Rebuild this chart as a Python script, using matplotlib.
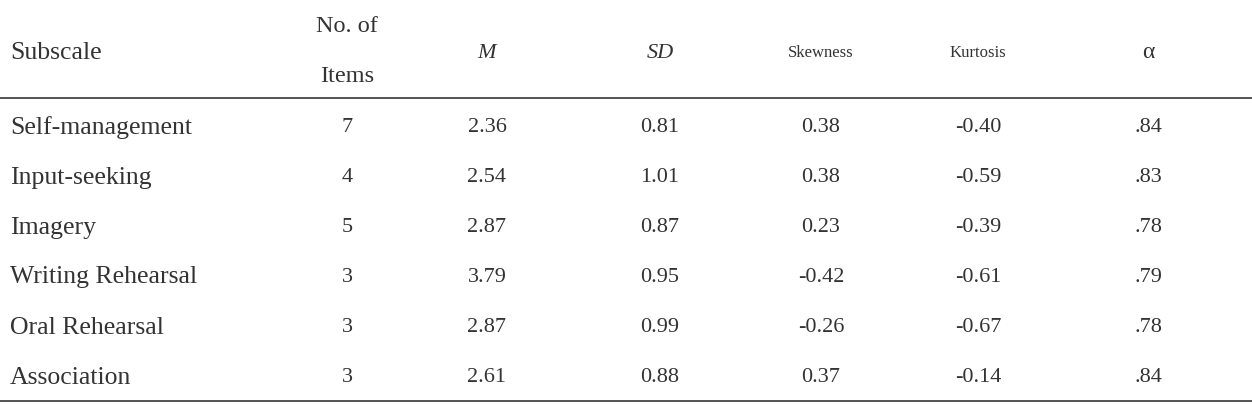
import matplotlib
matplotlib.use("Agg")
import matplotlib.pyplot as plt

subscales = ["Self-management", "Input-seeking", "Imagery", "Writing Rehearsal", "Oral Rehearsal", "Association"]
items = ["7", "4", "5", "3", "3", "3"]
means = ["2.36", "2.54", "2.87", "3.79", "2.87", "2.61"]
sds = ["0.81", "1.01", "0.87", "0.95", "0.99", "0.88"]
skew = ["0.38", "0.38", "0.23", "-0.42", "-0.26", "0.37"]
kurt = ["-0.40", "-0.59", "-0.39", "-0.61", "-0.67", "-0.14"]
alpha = [".84", ".83", ".78", ".79", ".78", ".84"]

W, H = 1252, 406
fig = plt.figure(figsize=(W/100, H/100), dpi=100)
fig.patch.set_facecolor("white")
ff = "Liberation Serif"
col = "#333333"
def T(x, y, s, ha="center", size=15, style="normal"):
    fig.text(x/W, 1-y/H, s, ha=ha, va="center", fontsize=size, family=ff, color=col, style=style)

xs = [347, 487, 660, 821, 978, 1148]
LS = 18.5
T(10, 53, "Subscale", ha="left", size=LS)
T(xs[0], 27, "No. of", size=17.5)
T(xs[0], 77, "Items", size=17.5)
T(xs[1], 53, "M", style="italic", size=16)
T(xs[2], 53, "SD", style="italic", size=16)
T(xs[3], 53, "Skewness", size=12)
T(xs[4], 53, "Kurtosis", size=12)
T(xs[5], 53, "α", size=17)
for yy in [99, 402]:
    fig.add_artist(plt.Line2D([0, 1], [1-yy/H]*2, color="#444444", lw=1.3))
ys = [128, 178, 228, 277, 328, 378]
for i, y in enumerate(ys):
    T(10, y, subscales[i], ha="left", size=LS)
    for x, v in zip(xs, [items[i], means[i], sds[i], skew[i], kurt[i], alpha[i]]):
        T(x, y, v, size=16)
fig.savefig("out.png", dpi=100)
